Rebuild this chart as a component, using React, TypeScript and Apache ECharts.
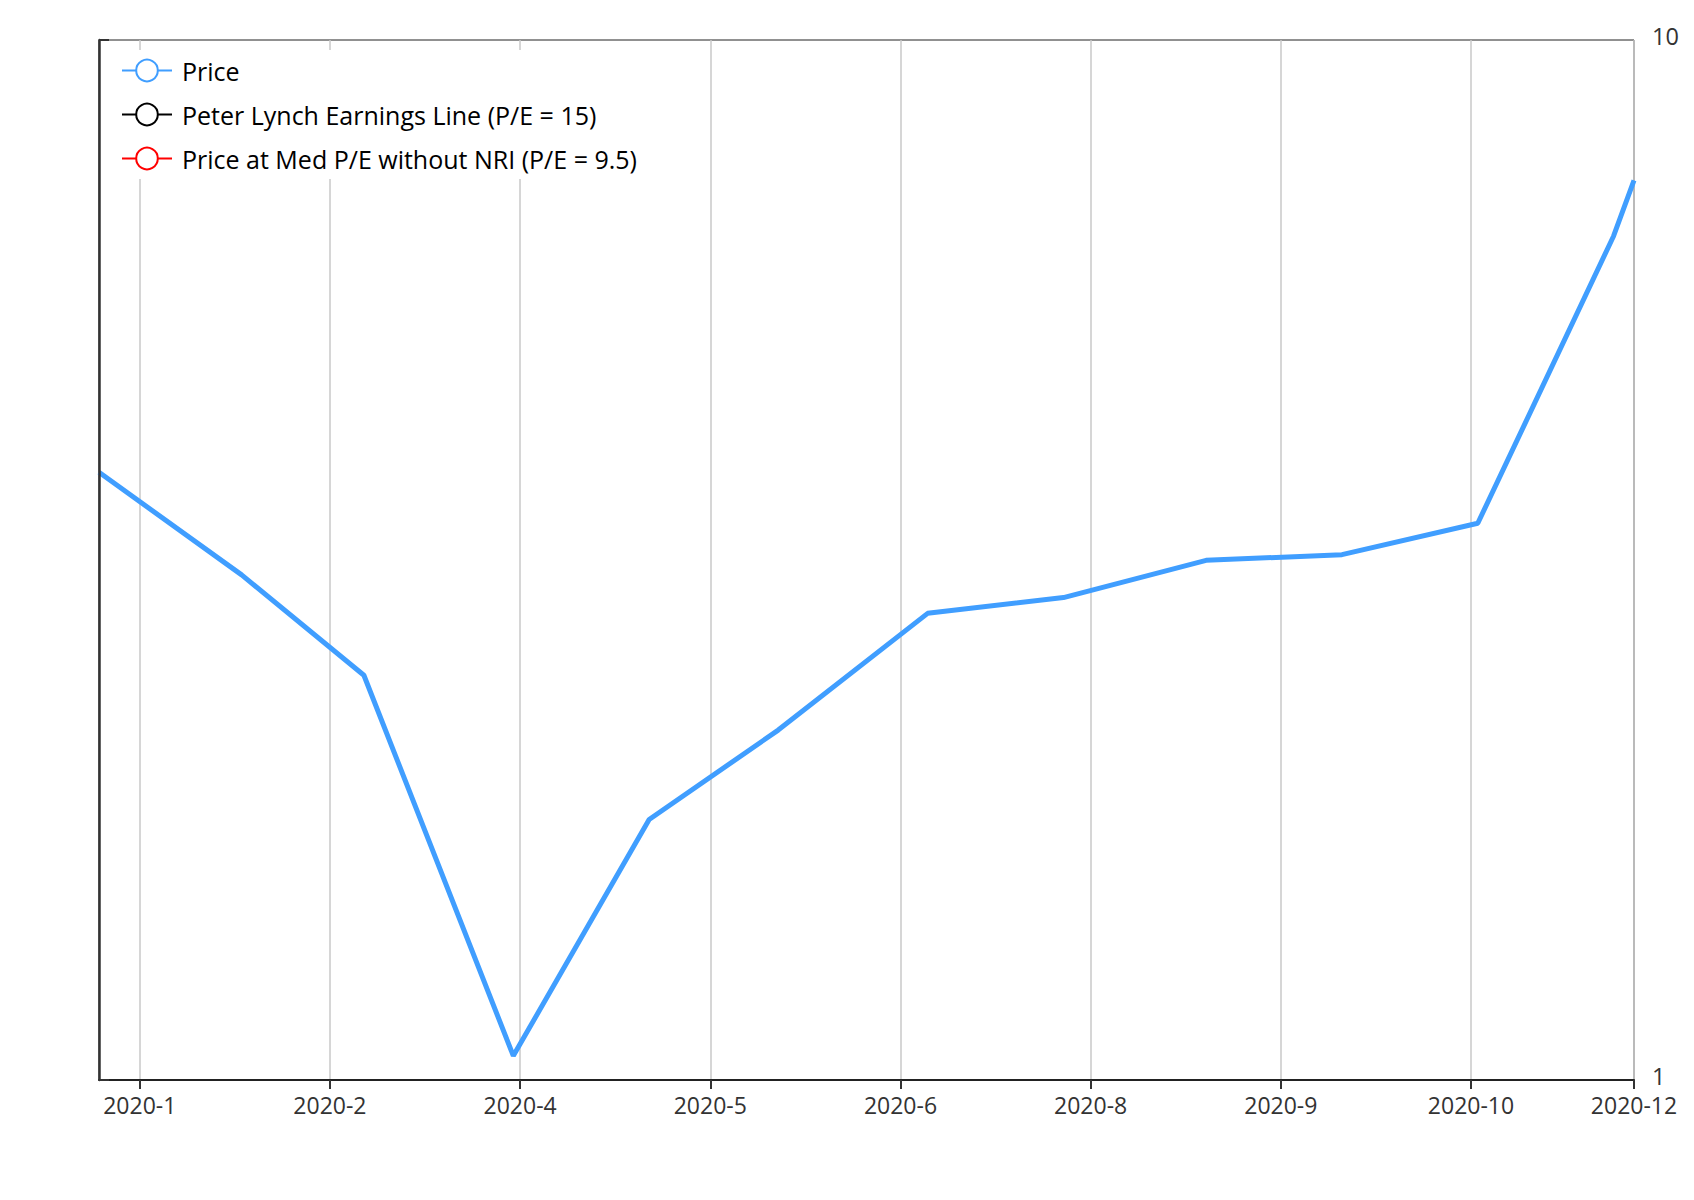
import React, { useEffect, useRef } from "react";
import * as echarts from "echarts";

// x axis: trading-session index of the visible window
const sessionMin = 0;
const sessionMax = 226;
const tickSessions = [6, 34, 62, 90, 118, 146, 174, 202, 226];
const tickLabels = ["2020-1", "2020-2", "2020-4", "2020-5", "2020-6", "2020-8", "2020-9", "2020-10", "2020-12"];

// Price series (monthly samples)
const priceSessions = [0, 21, 39, 61, 81, 100, 122, 142, 163, 183, 203, 223, 226];
const priceValues = [3.84, 3.06, 2.45, 1.055, 1.78, 2.17, 2.81, 2.91, 3.16, 3.2, 3.43, 6.48, 7.33];

// other series have no data in the window
const lynchValues: [number, number][] = [];
const medPeValues: [number, number][] = [];

const seriesNames = ["Price", "Peter Lynch Earnings Line (P/E = 15)", "Price at Med P/E without NRI (P/E = 9.5)"];
const seriesColors = ["#409EFF", "#000000", "#FF0000"];

const yMin = 1;
const yMax = 10;

export default function App() {
  const ref = useRef<HTMLDivElement>(null);
  useEffect(() => {
    if (!ref.current) return;
    const chart = echarts.init(ref.current, undefined, { renderer: "svg" });
    const priceData = priceSessions.map((s, i) => [s, priceValues[i]]);
    const fontFamily = "'Open Sans', sans-serif";
    chart.setOption({
      animation: false,
      backgroundColor: "#fff",
      textStyle: { fontFamily },
      color: seriesColors,
      grid: {
        left: 99,
        right: 60,
        top: 40,
        bottom: 120,
        show: true,
        borderColor: "#222",
        borderWidth: 1,
        backgroundColor: "transparent",
      },
      legend: {
        orient: "vertical",
        left: 113,
        top: 50,
        padding: 8,
        itemGap: 19,
        itemWidth: 50,
        itemHeight: 27,
        backgroundColor: "#fff",
        data: seriesNames,
        textStyle: { fontSize: 25, color: "#000", fontFamily, padding: [0, 0, 0, 5] },
        lineStyle: { width: 2 },
        itemStyle: { borderWidth: 2 },
      },
      xAxis: {
        type: "value",
        min: sessionMin,
        max: sessionMax,
        z: 1,
        axisLine: { show: true, onZero: false, lineStyle: { color: "#222", width: 2 } },
        axisTick: {
          show: true,
          length: 9,
          customValues: tickSessions,
          lineStyle: { color: "#333", width: 2 },
        },
        axisLabel: {
          customValues: tickSessions,
          fontSize: 23,
          color: "#333",
          margin: 13,
          fontFamily,
          formatter: (v: number) => {
            const i = tickSessions.indexOf(v);
            return i >= 0 ? tickLabels[i] : "";
          },
        },
        splitLine: { show: true, lineStyle: { color: "#c8c8c8", width: 1.5 } },
      },
      yAxis: {
        type: "log",
        logBase: 10,
        min: yMin,
        max: yMax,
        position: "right",
        z: 5,
        axisLine: { show: true, lineStyle: { color: "#333", width: 2.5 } },
        axisTick: { show: true, length: 10, lineStyle: { color: "#333", width: 2 } },
        axisLabel: {
          fontSize: 23.5,
          color: "#333",
          margin: 18,
          fontFamily,
          lineHeight: 8,
          verticalAlign: "bottom",
        },
        splitLine: { show: false },
      },
      series: [
        {
          name: seriesNames[0],
          type: "line",
          data: priceData,
          showSymbol: false,
          symbol: "emptyCircle",
          lineStyle: { width: 5, color: seriesColors[0] },
          itemStyle: { color: seriesColors[0] },
        },
        {
          name: seriesNames[1],
          type: "line",
          data: lynchValues,
          showSymbol: false,
          symbol: "emptyCircle",
          lineStyle: { width: 2, color: seriesColors[1] },
          itemStyle: { color: seriesColors[1] },
        },
        {
          name: seriesNames[2],
          type: "line",
          data: medPeValues,
          showSymbol: false,
          symbol: "emptyCircle",
          lineStyle: { width: 2, color: seriesColors[2] },
          itemStyle: { color: seriesColors[2] },
        },
      ],
    });
    return () => chart.dispose();
  }, []);
  return (
    <div
      ref={ref}
      style={{ position: "absolute", left: 0, top: 0, width: 1694, height: 1200, background: "#fff" }}
    />
  );
}
